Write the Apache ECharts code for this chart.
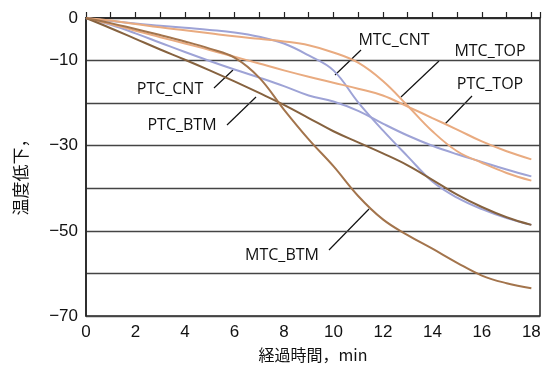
<!DOCTYPE html>
<html><head><meta charset="utf-8">
<script src="https://cdn.jsdelivr.net/npm/echarts@6/dist/echarts.min.js"></script>
<style>html,body{margin:0;padding:0;background:#fff}#c{width:544px;height:369px}</style>
</head><body><div id="c"></div>
<script>
// elapsed time, min
const times = [0,1,2,3,4,5,6,7,8,9,10,11,12,13,14,15,16,17,18];
// temperature drop values
const MTC_CNT = [0,-0.7,-1.3,-1.8,-2.3,-2.8,-3.4,-4.4,-6.0,-8.8,-12.3,-19.8,-26.4,-32.5,-38.4,-42.2,-44.9,-47.0,-48.6];
const MTC_TOP = [0,-0.6,-1.4,-2.2,-2.9,-3.6,-4.3,-4.9,-5.5,-6.4,-8.1,-10.5,-14.8,-20.6,-26.6,-31.3,-34.0,-36.4,-38.2];
const PTC_TOP = [0,-1.4,-3.0,-4.5,-6.0,-7.5,-9.1,-10.7,-12.3,-13.8,-15.2,-16.6,-18.2,-20.8,-23.5,-26.2,-29.0,-31.3,-33.2];
const PTC_CNT = [0,-1.6,-3.6,-5.8,-8.0,-10.1,-12.1,-14.0,-16.0,-18.2,-19.6,-21.8,-24.8,-27.6,-30.0,-32.0,-33.8,-35.6,-37.2];
const PTC_BTM = [0,-2.4,-4.9,-7.4,-9.8,-12.3,-14.9,-17.6,-20.4,-23.5,-26.6,-29.2,-31.8,-34.6,-38.0,-41.5,-44.4,-46.8,-48.6];
const MTC_BTM = [0,-1.2,-2.6,-4.0,-5.5,-7.2,-9.3,-14.0,-21.5,-28.5,-34.8,-41.8,-47.3,-51.0,-54.2,-57.5,-60.5,-62.3,-63.5];
const xTickLabels = ['0','2','4','6','8','10','12','14','16','18'];
const yTickLabels = {'0':'0','-10':'\u221210','-30':'\u221230','-50':'\u221250','-70':'\u221270'};

const seriesDefs = [
  {name:'MTC_CNT', data:MTC_CNT, color:'#9ea3d6'},
  {name:'PTC_CNT', data:PTC_CNT, color:'#9ea3d6'},
  {name:'MTC_TOP', data:MTC_TOP, color:'#e9ab80'},
  {name:'PTC_TOP', data:PTC_TOP, color:'#e9ab80'},
  {name:'PTC_BTM', data:PTC_BTM, color:'#86623f'},
  {name:'MTC_BTM', data:MTC_BTM, color:'#a3744c'}
];

const chart = echarts.init(document.getElementById('c'), null, {renderer:'canvas'});
const lblFont = {fontFamily:'"Open Sans", "DejaVu Sans", sans-serif', fontSize:16, fill:'#111', align:'center', verticalAlign:'middle'};
function label(text, x, y){ return {type:'text', x:x, y:y, style:Object.assign({text:text}, lblFont)}; }
function ptr(x1,y1,x2,y2){ return {type:'line', shape:{x1:x1,y1:y1,x2:x2,y2:y2}, style:{stroke:'#111', lineWidth:1.2}}; }

chart.setOption({
  animation:false,
  grid:{left:86, right:4, top:18, bottom:53, show:true, borderColor:'#222', borderWidth:1.5, backgroundColor:'transparent'},
  xAxis:{
    type:'value', min:0, max:18.35, interval:1,
    name:'経過時間，min', nameLocation:'middle', nameGap:31,
    nameTextStyle:{fontFamily:'"Noto Sans CJK JP", sans-serif', fontSize:16, color:'#111'},
    axisLine:{lineStyle:{color:'#222', width:1.5}},
    axisTick:{show:true, inside:true, length:6, lineStyle:{color:'#222', width:1.2}},
    axisLabel:{margin:8, fontFamily:'"Liberation Sans", Arial, sans-serif', fontSize:17, color:'#111',
      formatter:function(v){ const s=String(v); return xTickLabels.indexOf(s)>=0 ? s : ''; }},
    splitLine:{show:false}
  },
  yAxis:{
    type:'value', min:-70, max:0, interval:10,
    axisLine:{show:true, lineStyle:{color:'#222', width:1.5}},
    axisTick:{show:false},
    axisLabel:{margin:8, fontFamily:'"Liberation Sans", Arial, sans-serif', fontSize:17, color:'#111',
      formatter:function(v){ return yTickLabels[String(v)] || ''; }},
    splitLine:{show:true, lineStyle:{color:'#444', width:1.3}}
  },
  series: seriesDefs.map(function(s){ return {
    name:s.name, type:'line', smooth:0.4, showSymbol:false,
    data: times.map(function(t,i){ return [t, s.data[i]]; }),
    lineStyle:{color:s.color, width:2}, itemStyle:{color:s.color}
  };}),
  graphic:[
    {type:'text', x:21, y:173, rotation:Math.PI/2,
     style:{text:'温度低下，', fontFamily:'"Noto Sans CJK JP", sans-serif', fontSize:17, fill:'#111', align:'center', verticalAlign:'middle'}},
    label('MTC_CNT', 394, 40), ptr(361,50,335,75),
    label('MTC_TOP', 490, 51), ptr(439,61,401,97),
    label('PTC_TOP', 490, 84), ptr(472,96,445,124),
    label('PTC_CNT', 170, 89), ptr(214,88,233,70),
    label('PTC_BTM', 182, 125), ptr(227,125,256,97),
    label('MTC_BTM', 282, 255), ptr(329,250,369,209)
  ]
});
</script></body></html>
